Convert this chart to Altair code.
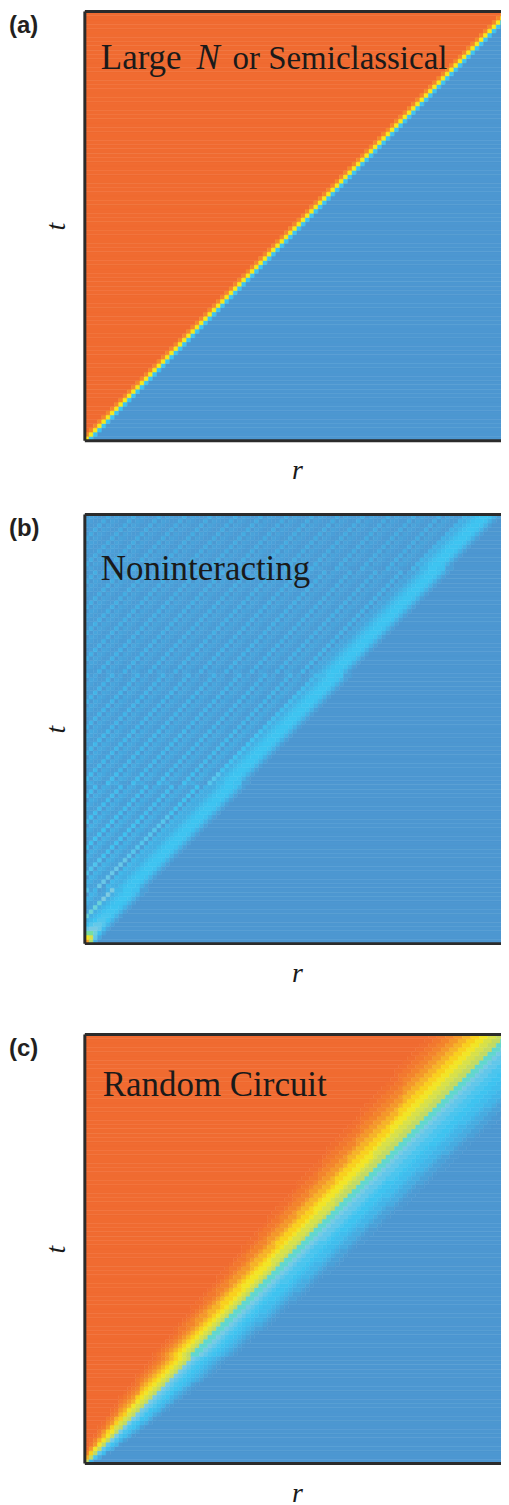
import altair as alt
import pandas as pd

N_CELLS = 100  # grid cells along r and along t

# colour map: value -> colour
color_domain = [0.0, 0.15, 0.32, 0.45, 0.55, 0.68, 0.85, 1.0]
color_range = ["#4D97D1", "#45ADE2", "#3EC4F1", "#7FCBE2", "#C3DA63",
               "#F7E61C", "#F4A82B", "#F06B31"]

# panel (a): value by diagonal offset d = t - r (cells)
a_offsets = [1, 0, -1]
a_values = [0.93, 0.68, 0.32]
a_behind = 1.0
a_ahead = 0.0

# panel (b): ridge just behind r = v t, checkered stripes inside the cone
b_front_speed = 0.96
b_ridge_offsets = [-3, -2, -1, 0, 1, 2, 3, 4, 5]
b_ridge_values = [0.0, 0.06, 0.18, 0.29, 0.32, 0.32, 0.29, 0.23, 0.16]
b_ridge_gain = [3.0, 2.1, 1.6, 1.35, 1.2, 1.1, 1.05, 1.02, 1.0, 1.0]
b_stripe_levels = [0.36, 0.20, 0.07]
b_near_boost = [1.3, 1.25, 1.2, 1.15, 1.1, 1.08, 1.05, 1.02]
b_envelope = [1.0, 0.95, 0.85, 0.75, 0.65, 0.58, 0.52, 0.47, 0.43, 0.4]
b_checker = [1.0, 0.4]

# panel (c): broadening front, value vs (r - v t)/sqrt(t)
c_front_speed = 0.98
c_scaled_offsets = [-2.0, -1.8, -1.6, -1.4, -1.2, -1.0, -0.8, -0.6, -0.4, -0.2, 0.0,
                    0.2, 0.4, 0.6, 0.8, 1.0, 1.2, 1.4, 1.6, 1.8, 2.0, 2.2]
c_values = [1.0, 1.0, 0.99, 0.97, 0.94, 0.89, 0.82, 0.74, 0.67, 0.61, 0.55,
            0.48, 0.43, 0.38, 0.34, 0.31, 0.27, 0.21, 0.14, 0.07, 0.02, 0.0]

labels = ["(a)", "(b)", "(c)"]


def merge_row(vals, j):
    recs = []
    start = 0
    for i in range(1, len(vals) + 1):
        if i == len(vals) or vals[i] != vals[start]:
            recs.append({"r0": start, "r1": i, "t0": j, "t1": j + 1, "v": vals[start]})
            start = i
    return recs


def panel_a():
    recs = []
    lut = dict(zip(a_offsets, a_values))
    for j in range(N_CELLS):
        row = []
        for i in range(N_CELLS):
            d = j - i
            if d in lut:
                row.append(lut[d])
            elif d > 0:
                row.append(a_behind)
            else:
                row.append(a_ahead)
        recs += merge_row(row, j)
    return pd.DataFrame(recs)


def panel_b():
    recs = []
    lut = dict(zip(b_ridge_offsets, b_ridge_values))
    last = b_ridge_offsets[-1]
    for j in range(N_CELLS):
        row = []
        for i in range(N_CELLS):
            k = round(b_front_speed * (j + 0.5) - (i + 0.5))
            if k < b_ridge_offsets[0]:
                v = 0.0
            elif k <= last:
                v = lut[k] * b_ridge_gain[min(j, len(b_ridge_gain) - 1)]
            else:
                boost = b_near_boost[k - last - 1] if k - last - 1 < len(b_near_boost) else 1.0
                v = (b_stripe_levels[k % 3] * b_envelope[j // 10]
                     * b_checker[(i + j) % 2] * boost)
            row.append(round(min(v, 1.0), 3))
        recs += merge_row(row, j)
    return pd.DataFrame(recs)


def panel_c():
    recs = []
    step = c_scaled_offsets[1] - c_scaled_offsets[0]
    for j in range(N_CELLS):
        row = []
        t = j + 0.5
        for i in range(N_CELLS):
            x = ((i + 0.5) - c_front_speed * t) / (t ** 0.5)
            idx = int(round((x - c_scaled_offsets[0]) / step))
            idx = max(0, min(len(c_values) - 1, idx))
            row.append(c_values[idx])
        recs += merge_row(row, j)
    return pd.DataFrame(recs)


W, H = 425, 430
SERIF = "Liberation Serif"
color_scale = alt.Scale(domain=color_domain, range=color_range, clamp=True)


def make_panel(df, label, texts, text_y):
    base = alt.Chart(df).mark_rect(strokeWidth=0.5).encode(
        x=alt.X("r0:Q", scale=alt.Scale(domain=[0, N_CELLS], nice=False, zero=False),
                axis=alt.Axis(title="r", labels=False, ticks=False, domain=False, grid=False,
                              titleFont=SERIF, titleFontStyle="italic", titleFontWeight="normal",
                              titleFontSize=28, titleColor="#1a1a1a", titlePadding=16)),
        x2="r1:Q",
        y=alt.Y("t0:Q", scale=alt.Scale(domain=[0, N_CELLS], nice=False, zero=False),
                axis=alt.Axis(title="t", labels=False, ticks=False, domain=False, grid=False,
                              titleFont=SERIF, titleFontStyle="italic", titleFontWeight="normal",
                              titleFontSize=28, titleColor="#1a1a1a", titlePadding=14)),
        y2="t1:Q",
        color=alt.Color("v:Q", scale=color_scale, legend=None),
        stroke=alt.Color("v:Q", scale=color_scale, legend=None),
    )
    one = pd.DataFrame({"k": [0]})
    border_col = "#2b2b2b"
    left = alt.Chart(one).mark_rule(color=border_col, strokeWidth=3).encode(
        x=alt.value(0), y=alt.value(0), y2=alt.value(H))
    top = alt.Chart(one).mark_rule(color=border_col, strokeWidth=3).encode(
        x=alt.value(0), x2=alt.value(W), y=alt.value(0))
    bottom = alt.Chart(one).mark_rule(color=border_col, strokeWidth=3).encode(
        x=alt.value(0), x2=alt.value(W), y=alt.value(H))
    lab = alt.Chart(one).mark_text(
        text=label, font="Liberation Sans", fontWeight="bold", fontSize=24,
        align="left", baseline="middle", color="#231f20").encode(
        x=alt.value(-76), y=alt.value(15))
    layers = [base, left, top, bottom, lab]
    for txt, xpos, style, size in texts:
        layers.append(alt.Chart(one).mark_text(
            text=txt, font=SERIF, fontSize=size, fontStyle=style, align="left",
            baseline="alphabetic", color="#1a1a1a").encode(
            x=alt.value(xpos), y=alt.value(text_y)))
    return alt.layer(*layers).properties(width=W, height=H)


pa = make_panel(panel_a(), labels[0],
                [("Large", 16, "normal", 35), ("N", 112, "italic", 35),
                 ("or Semiclassical", 148, "normal", 33)], 58)
pb = make_panel(panel_b(), labels[1], [("Noninteracting", 16, "normal", 35)], 66)
pc = make_panel(panel_c(), labels[2], [("Random Circuit", 18, "normal", 35)], 62)

chart = alt.vconcat(alt.vconcat(pa, pb, spacing=27), pc, spacing=44).properties(
    padding={"left": 0, "top": 0, "right": -10, "bottom": 0}
).configure_view(strokeWidth=0).configure(background="white")

chart.save("out.html", embed_options={"renderer": "svg", "actions": False})
